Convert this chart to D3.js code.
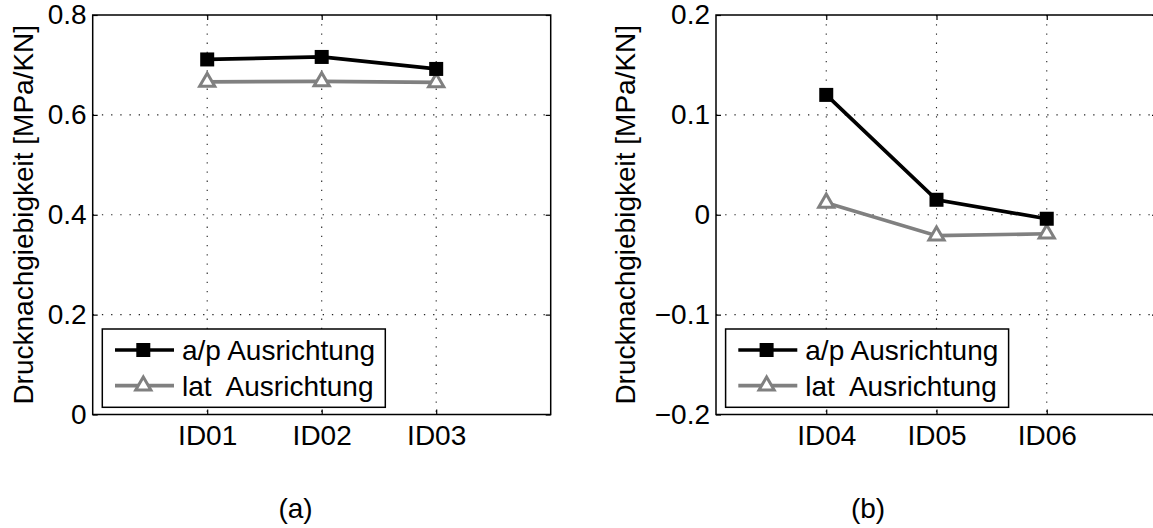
<!DOCTYPE html>
<html>
<head>
<meta charset="utf-8">
<script src="https://cdn.jsdelivr.net/npm/d3@7"></script>
<style>
  html, body { margin: 0; padding: 0; background: #fff; }
  svg { display: block; font-family: "Liberation Sans", Arial, Helvetica, sans-serif; }
  text { white-space: pre; }
</style>
</head>
<body>
<svg id="chart" width="1153" height="528"></svg>
<script>
// ---- data ----
const categoriesA = ["ID01", "ID02", "ID03"];
const apA = [0.711, 0.716, 0.692];
const latA = [0.666, 0.667, 0.665];

const categoriesB = ["ID04", "ID05", "ID06"];
const apB = [0.120, 0.015, -0.004];
const latB = [0.012, -0.021, -0.019];

const yTicksA = [0, 0.2, 0.4, 0.6, 0.8];
const yTicksB = [-0.2, -0.1, 0, 0.1, 0.2];

const seriesNames = ["a/p Ausrichtung", "lat  Ausrichtung"];
const yLabel = "Drucknachgiebigkeit [MPa/KN]";
const panelLabels = ["(a)", "(b)"];

// ---- layout ----
const svg = d3.select("#chart");
const FONT = 28;
const GRAY = "#808080";

const panels = [
  { cats: categoriesA, ap: apA, lat: latA, ticks: yTicksA, domain: [0, 0.8],
    x0: 92.7, x1: 550.7, ylabX: 22.5, label: panelLabels[0], labX: 295.5 },
  { cats: categoriesB, ap: apB, lat: latB, ticks: yTicksB, domain: [-0.2, 0.2],
    x0: 716, x1: 1157, ylabX: 625, label: panelLabels[1], labX: 868 }
];
const yTop = 15, yBot = 414.5;

function fmt(v) {
  if (v === 0) return "0";
  return d3.format("")(+v.toFixed(2));
}

panels.forEach(p => {
  const x = d3.scaleLinear().domain([0, 4]).range([p.x0, p.x1]);
  const y = d3.scaleLinear().domain(p.domain).range([yBot, yTop]);
  const g = svg.append("g");

  // grid (dotted)
  const grid = g.append("g").attr("stroke", "#222").attr("stroke-width", 1.1)
    .attr("stroke-dasharray", "1.3,7.9");
  p.cats.forEach((c, i) => {
    grid.append("line").attr("x1", x(i + 1)).attr("x2", x(i + 1))
      .attr("y1", y(p.domain[1])).attr("y2", y(p.domain[0]));
  });
  p.ticks.forEach(t => {
    if (t === p.domain[0] || t === p.domain[1]) return;
    grid.append("line").attr("x1", x(0)).attr("x2", x(4))
      .attr("y1", y(t)).attr("y2", y(t));
  });

  // axes
  const yAxis = d3.axisLeft(y).tickValues(p.ticks).tickFormat(fmt).tickSize(-5).tickPadding(6);
  const yAxisR = d3.axisRight(y).tickValues(p.ticks).tickFormat("").tickSize(-5);
  const xAxis = d3.axisBottom(x).tickValues([1, 2, 3]).tickFormat((d, i) => p.cats[i]).tickSize(-5).tickPadding(11);
  const xAxisT = d3.axisTop(x).tickValues([1, 2, 3]).tickFormat("").tickSize(-5);

  const ax = [
    g.append("g").attr("transform", `translate(${x(0)},0)`).call(yAxis),
    g.append("g").attr("transform", `translate(${x(4)},0)`).call(yAxisR),
    g.append("g").attr("transform", `translate(0,${yBot})`).call(xAxis),
    g.append("g").attr("transform", `translate(0,${yTop})`).call(xAxisT)
  ];
  ax.forEach(a => {
    a.select(".domain").remove();
    a.selectAll("line").attr("stroke", "#000").attr("stroke-width", 1.2);
    a.selectAll("text").attr("font-size", FONT).attr("fill", "#000")
      .attr("font-family", "Liberation Sans, Arial, sans-serif");
  });

  // frame
  g.append("rect").attr("x", x(0)).attr("y", yTop)
    .attr("width", x(4) - x(0)).attr("height", yBot - yTop)
    .attr("fill", "none").attr("stroke", "#000").attr("stroke-width", 1.5);

  // series
  const line = d3.line().x((d, i) => x(i + 1)).y(d => y(d));
  g.append("path").datum(p.lat).attr("d", line)
    .attr("fill", "none").attr("stroke", GRAY).attr("stroke-width", 3.7);
  g.append("path").datum(p.ap).attr("d", line)
    .attr("fill", "none").attr("stroke", "#000").attr("stroke-width", 3.7);

  const tri = d3.symbol().type(d3.symbolTriangle).size(100);
  g.selectAll(".tri").data(p.lat).enter().append("path")
    .attr("d", tri)
    .attr("transform", (d, i) => `translate(${x(i + 1)},${y(d)})`)
    .attr("fill", "#fff").attr("stroke", GRAY).attr("stroke-width", 3);
  const S = 14;
  g.selectAll(".sq").data(p.ap).enter().append("rect")
    .attr("x", (d, i) => x(i + 1) - S / 2).attr("y", d => y(d) - S / 2)
    .attr("width", S).attr("height", S).attr("fill", "#000");

  // legend
  const lx = p.x0 + 9.6, ly = 329, lw = 283, lh = 78.3;
  const lg = g.append("g");
  lg.append("rect").attr("x", lx).attr("y", ly).attr("width", lw).attr("height", lh)
    .attr("fill", "#fff").attr("stroke", "#000").attr("stroke-width", 1.5);
  const rows = [ly + 21, ly + 56.7];
  // a/p
  lg.append("line").attr("x1", lx + 12.7).attr("x2", lx + 71.7)
    .attr("y1", rows[0]).attr("y2", rows[0]).attr("stroke", "#000").attr("stroke-width", 3.7);
  lg.append("rect").attr("x", lx + 41 - S / 2).attr("y", rows[0] - S / 2)
    .attr("width", S).attr("height", S).attr("fill", "#000");
  // lat
  lg.append("line").attr("x1", lx + 12.7).attr("x2", lx + 71.7)
    .attr("y1", rows[1]).attr("y2", rows[1]).attr("stroke", GRAY).attr("stroke-width", 3.7);
  lg.append("path").attr("d", tri)
    .attr("transform", `translate(${lx + 41},${rows[1]})`)
    .attr("fill", "#fff").attr("stroke", GRAY).attr("stroke-width", 3);
  seriesNames.forEach((s, i) => {
    lg.append("text").attr("x", lx + 79.7).attr("y", rows[i]).attr("dy", "0.36em")
      .attr("font-size", FONT).attr("fill", "#000").text(s);
  });

  // y label
  svg.append("text")
    .attr("transform", `translate(${p.ylabX},${(yTop + yBot) / 2}) rotate(-90)`)
    .attr("text-anchor", "middle").attr("dy", "0.36em")
    .attr("font-size", FONT).attr("fill", "#000").text(yLabel);

  // panel label
  svg.append("text").attr("x", p.labX).attr("y", 518)
    .attr("text-anchor", "middle").attr("font-size", FONT).attr("fill", "#000")
    .text(p.label);
});
</script>
</body>
</html>
